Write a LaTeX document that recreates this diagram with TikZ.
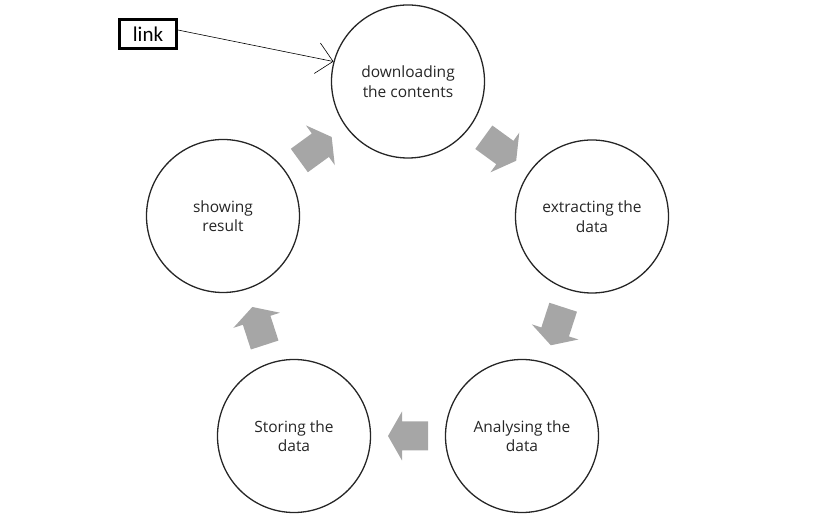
\documentclass[tikz,border=0pt]{standalone}
\usepackage{fontspec}
\setmainfont{Open Sans}
\newfontfamily\linkfont{Carlito}
\usetikzlibrary{arrows.meta,calc}
\begin{document}
\begin{tikzpicture}[x=1pt,y=1pt,
  stage/.style={circle,draw=black!85,line width=1.3pt,minimum size=153pt,inner sep=0pt,
    align=center,font=\fontsize{15.5}{19.5}\selectfont,text=black!85},
  blockarrow/.style={fill=black!35,draw=none},
  linkbox/.style={draw=black,line width=2.6pt,minimum width=57pt,minimum height=29pt,
    inner sep=0pt,font=\linkfont\fontsize{21}{24}\selectfont}]
\useasboundingbox (0,0) rectangle (835,529);
\node[stage] (dl) at (408,447.5) {downloading\\the contents};
\node[stage] (ex) at (592,312.5) {extracting the\\data};
\node[stage] (an) at (522,93) {Analysing the\\data};
\node[stage] (st) at (294,93) {Storing the\\data};
\node[stage] (sh) at (223,313) {showing\\result};
\node[linkbox] (link) at (148,495) {link};
\foreach \p/\q/\r in {dl/ex/-36, ex/an/-108, an/st/180, st/sh/108, sh/dl/36}{
  \begin{scope}[shift={($(\p)!0.5!(\q)$)}, rotate=\r]
    \fill[blockarrow] (20,0) -- (6,24.5) -- (6,14.5) -- (-20,14.5) -- (-20,-14.5)
      -- (6,-14.5) -- (6,-24.5) -- cycle;
  \end{scope}
}
\draw[line width=0.6pt,-{Straight Barb[length=16pt,width=31pt,line width=0.6pt]}]
  ([yshift=4pt]link.east) -- (dl.165);
\end{tikzpicture}
\end{document}
